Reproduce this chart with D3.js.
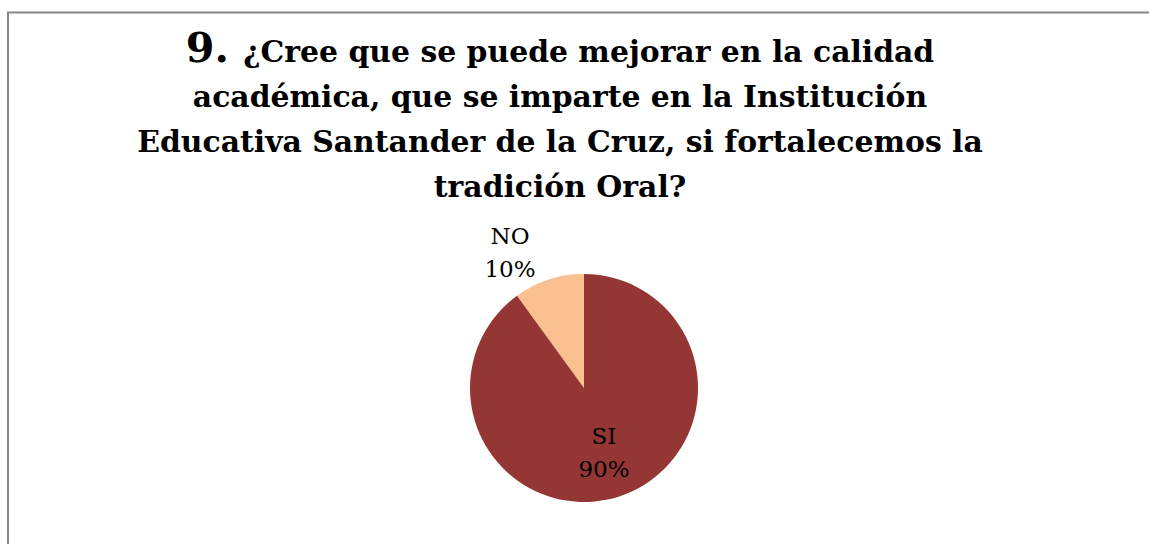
<!DOCTYPE html>
<html>
<head>
<meta charset="utf-8">
<script src="https://cdn.jsdelivr.net/npm/d3@7"></script>
<style>
  body { margin: 0; background: #fff; }
</style>
</head>
<body>
<div id="chart"></div>
<script>
var width = 1149,
    height = 544;

// data
var categories = ["NO", "SI"];
var values = [10, 90];
var colors = ["#FAC090", "#943634"];
var titleNumber = "9.";
var titleLines = [
  "¿Cree que se puede mejorar en la calidad",
  "académica, que se imparte en la Institución",
  "Educativa Santander de la Cruz, si fortalecemos la",
  "tradición Oral?"
];

var svg = d3.select("#chart")
  .append("svg")
    .attr("width", width)
    .attr("height", height);

// chart frame (cut off on the right and bottom)
svg.append("path")
  .attr("d", "M8,544 V12.5 H1149")
  .attr("fill", "none")
  .attr("stroke", "#868686")
  .attr("stroke-width", 2);

// title
var titleFont = "'DejaVu Serif', serif";
var title = svg.append("g")
  .attr("font-family", titleFont)
  .attr("font-weight", "bold")
  .attr("fill", "#000");

var titleX = 560,
    titleY0 = 62,
    lineH = 45;

var lines = [];
var first = title.append("text")
  .attr("x", titleX)
  .attr("y", titleY0)
  .attr("text-anchor", "middle");
var numSpan = first.append("tspan").text(titleNumber + " ");
first.append("tspan").text(titleLines[0]);
lines.push(first);

titleLines.slice(1).forEach(function(t, i) {
  lines.push(title.append("text")
    .attr("x", titleX)
    .attr("y", titleY0 + lineH * (i + 1))
    .attr("text-anchor", "middle")
    .text(t));
});

// fit the font size so the widest line matches the original width
var baseSize = 28;
lines.forEach(function(l) { l.attr("font-size", baseSize); });
numSpan.attr("font-size", baseSize * 1.38);
var w = lines[2].node().getComputedTextLength();
var size = baseSize * 846 / w;
lines.forEach(function(l) { l.attr("font-size", size); });
numSpan.attr("font-size", size * 1.38);

// pie
var cx = 584, cy = 388, radius = 114;
var g = svg.append("g").attr("transform", "translate(" + cx + "," + cy + ")");

var data = categories.map(function(c, i) { return {key: c, value: values[i], color: colors[i]}; });

var pie = d3.pie()
  .value(function(d) { return d.value; })
  .sort(null)
  .startAngle(-Math.PI * 2 * values[0] / 100)
  .endAngle(Math.PI * 2 - Math.PI * 2 * values[0] / 100);

var arc = d3.arc().innerRadius(0).outerRadius(radius);

g.selectAll("path")
  .data(pie(data))
  .enter()
  .append("path")
    .attr("d", arc)
    .attr("fill", function(d) { return d.data.color; });

// labels
var labelFont = "'DejaVu Serif', serif";
var labelPos = {
  NO: [-74, -144],
  SI: [20, 56]
};
data.forEach(function(d) {
  var p = labelPos[d.key];
  var t = g.append("text")
    .attr("font-family", labelFont)
    .attr("font-size", 23)
    .attr("text-anchor", "middle")
    .attr("fill", "#000");
  t.append("tspan").attr("x", p[0]).attr("y", p[1]).text(d.key);
  t.append("tspan").attr("x", p[0]).attr("y", p[1] + 33).text(d.value + "%");
});
</script>
</body>
</html>
